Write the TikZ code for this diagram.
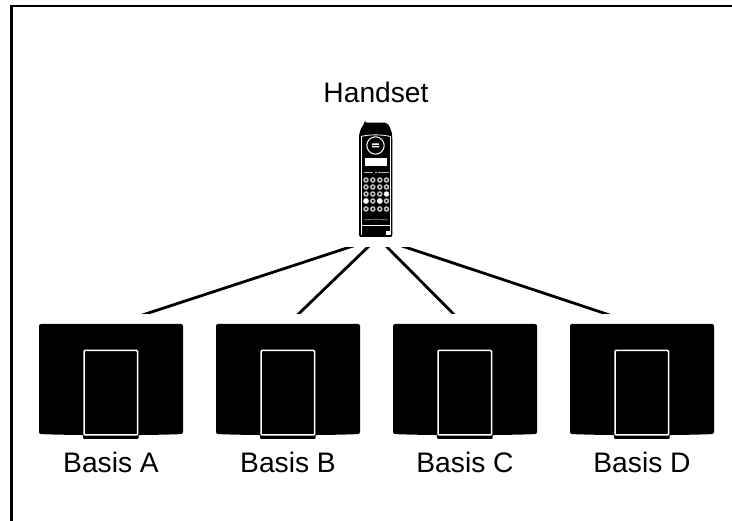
\documentclass[tikz,border=0pt]{standalone}
\usepackage{fontspec}
\usetikzlibrary{calc}
\setmainfont{Liberation Sans}
\tikzset{
  lbl/.style={font=\fontsize{28.2}{32}\selectfont,text=black,inner sep=0pt,anchor=base},
  link/.style={draw=black,line width=2.8pt},
}
\newcommand{\basestation}[1]{%
  \begin{scope}[xshift=#1pt]
    \fill[black,rounded corners=2pt] (39,324) -- (183,324) -- (183,434) .. controls (150,435.5) and (72,435.5) .. (39,434) -- cycle;
    \fill[black,rounded corners=1pt] (83,434) rectangle (138.5,439);
    \draw[white,line width=1.5pt,rounded corners=1pt,fill=black] (84,350.5) rectangle (137.5,435);
  \end{scope}}
\begin{document}
\begin{tikzpicture}[x=1pt,y=-1pt]
\useasboundingbox (0,0) rectangle (732,521);
\fill[white] (0,0) rectangle (732,521);
\draw[black,line width=2.8pt] (11.5,521) -- (11.5,6) -- (732,6);

\node[lbl] (handset) at (376,103) {Handset};

% handset
\fill[black,rounded corners=2pt] (365,122.7) -- (387,122.7) .. controls (390,127) and (392,132) .. (392.3,138) -- (392.3,237) -- (359,237) -- (359,138) .. controls (359.3,132) and (361.5,127) .. (365,122.7) -- cycle;
\draw[white,line width=0.8pt] (360.8,136.5) .. controls (370,134.3) and (381,134.3) .. (390.5,136.5);
\draw[white,line width=0.7pt] (361,136.5) -- (361,235);
\draw[white,line width=0.7pt] (390.3,136.5) -- (390.3,235);
\draw[white,line width=1pt] (375.5,145.5) circle (8.7);
\fill[white] (372,143.5) rectangle (379,145) (372,146) rectangle (379,147.5);
\fill[white] (364.5,158) rectangle (386.5,166);
\draw[white!70!black,line width=0.9pt] (363.5,172.5) -- (373,172.5) (374.5,172.5) -- (376.5,172.5) (378,172.5) -- (388.5,172.5);
\foreach \yy in {180,187,194,201,209}
  \foreach \xx in {366,372.8,379.8,386.5}
    \fill[white!75!black] (\xx,\yy) circle (2.8);
\foreach \yy in {180,187,194,201,209}
  \foreach \xx in {366,372.8,379.8,386.5}
    \fill[black] (\xx,\yy) circle (1.2);
\fill[white] (366,201) circle (2.7) (379.8,201) circle (2.7) (386.5,194) circle (2.3);
\draw[white!60!black,line width=0.6pt] (364,220) .. controls (372,219) and (380,219) .. (388,220);
\draw[white,line width=0.8pt] (361,225) -- (390.3,225);
\fill[white] (385.5,231) rectangle (389.5,235);

% connector end points
\coordinate (top1) at (347,248);
\coordinate (top2) at (367,248);
\coordinate (top3) at (388,248);
\coordinate (top4) at (408,248);
\coordinate (bot1) at (147,313.5);
\coordinate (bot2) at (299,313.5);
\coordinate (bot3) at (453,313.5);
\coordinate (bot4) at (605,313.5);
\begin{scope}
\clip (0,248) rectangle (732,313.5);
\draw[link] ($(top1)!-0.05!(bot1)$) -- ($(bot1)!-0.05!(top1)$);
\draw[link] ($(top2)!-0.05!(bot2)$) -- ($(bot2)!-0.05!(top2)$);
\draw[link] ($(top3)!-0.05!(bot3)$) -- ($(bot3)!-0.05!(top3)$);
\draw[link] ($(top4)!-0.05!(bot4)$) -- ($(bot4)!-0.05!(top4)$);
\end{scope}

\basestation{0}
\basestation{177}
\basestation{354}
\basestation{531}

\node[lbl] (basisa) at (111,473) {Basis A};
\node[lbl] (basisb) at (288,473) {Basis B};
\node[lbl] (basisc) at (465,473) {Basis C};
\node[lbl] (basisd) at (642,473) {Basis D};
\end{tikzpicture}
\end{document}
